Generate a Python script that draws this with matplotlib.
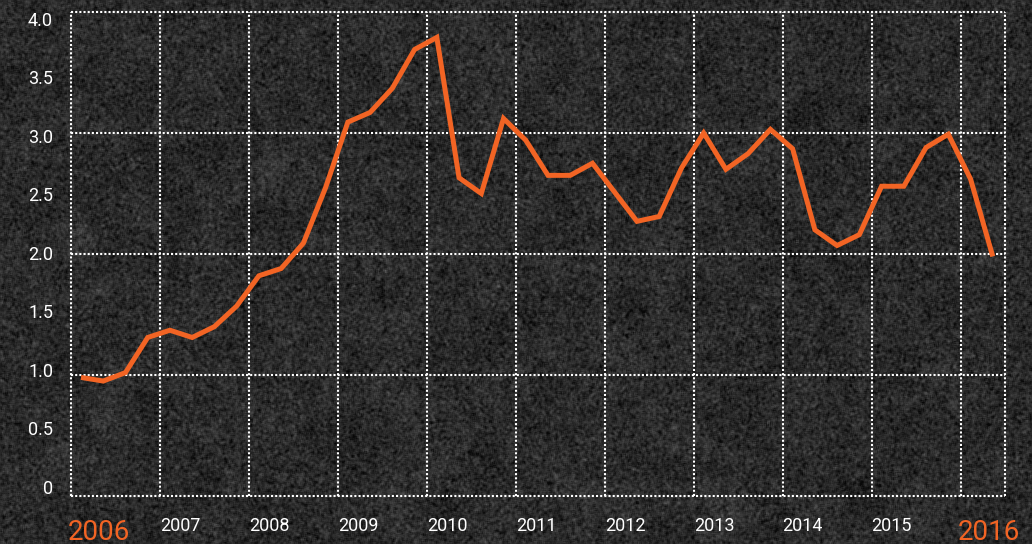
import numpy as np
import matplotlib
matplotlib.use("Agg")
import matplotlib.pyplot as plt

# ---- data ----
values = [0.98, 0.95, 1.02, 1.31, 1.37, 1.31, 1.40, 1.57, 1.82, 1.88,
          2.09, 2.55, 3.09, 3.17, 3.37, 3.69, 3.79, 2.63, 2.50, 3.12,
          2.94, 2.65, 2.65, 2.75, 2.51, 2.27, 2.31, 2.71, 3.00, 2.70,
          2.83, 3.03, 2.87, 2.20, 2.07, 2.16, 2.56, 2.56, 2.88, 2.99,
          2.62, 1.98]
first_x = 2006.1125
step = 0.25
years = list(range(2006, 2017))
year_labels = [str(y) for y in years]
y_ticks = [0, 0.5, 1.0, 1.5, 2.0, 2.5, 3.0, 3.5, 4.0]
y_tick_labels = ["0", "0.5", "1.0", "1.5", "2.0", "2.5", "3.0", "3.5", "4.0"]

x = first_x + step * np.arange(len(values))

ORANGE = "#f26424"
FONT = "Roboto"

W, H, DPI = 1032, 544, 100
fig = plt.figure(figsize=(W / DPI, H / DPI), dpi=DPI, facecolor="#2a2a2a")

# decorative background texture (not data)
rng = np.random.default_rng(3)
def blur(a, k):
    ker = np.ones(k) / k
    a = np.apply_along_axis(lambda r: np.convolve(r, ker, mode="same"), 1, a)
    a = np.apply_along_axis(lambda c: np.convolve(c, ker, mode="same"), 0, a)
    return a
tex = blur(rng.normal(0, 1, (H, W)), 3) * 1.0 + blur(rng.normal(0, 1, (H, W)), 31) * 3.0
tex = (tex - tex.mean()) / tex.std()
gray = np.clip(42 + 11 * tex, 8, 100) / 255.0
img = np.dstack([gray, gray, gray])
fig.figimage(img, xo=0, yo=0, origin="upper", zorder=0)

left, right, top, bottom = 71, 1005, 12, 496
ax = fig.add_axes([left / W, 1 - bottom / H, (right - left) / W, (bottom - top) / H])
ax.set_zorder(2)
ax.patch.set_alpha(0)
ax.set_xlim(2006, 2016.5)
ax.set_ylim(0, 4)
for s in ax.spines.values():
    s.set_visible(False)
ax.set_xticks([])
ax.set_yticks([])

grid_kw = dict(color="white", linewidth=1.5, linestyle=(0, (1, 1)), clip_on=False, zorder=1)
for yr in years:
    ax.axvline(yr, **grid_kw)
ax.axvline(2016.5, **grid_kw)
for v in range(0, 5):
    ax.axhline(v, **grid_kw)

ax.plot(x, values, color=ORANGE, linewidth=3.6, solid_joinstyle="miter",
        solid_capstyle="butt", zorder=3, clip_on=False)

# y tick labels (spaced slightly differently from gridlines, as in the original)
for v, lab in zip(y_ticks, y_tick_labels):
    ypix = 489 - 117.1 * v
    fig.text(53 / W, 1 - ypix / H, lab, ha="right", va="center",
             color="white", fontsize=13, family=FONT, zorder=5)

# x labels, left-aligned at gridlines
for i, (yr, lab) in enumerate(zip(years, year_labels)):
    xpix = left + (yr - 2006) / 10.5 * (right - left)
    if i == 0 or i == len(years) - 1:
        fig.text((xpix - 3) / W, 1 - 540 / H, lab, ha="left", va="baseline",
                 color=ORANGE, fontsize=20, family=FONT, zorder=5)
    else:
        fig.text(xpix / W, 1 - 531 / H, lab, ha="left", va="baseline",
                 color="white", fontsize=13, family=FONT, zorder=5)

fig.savefig("out.png", dpi=DPI, facecolor=fig.get_facecolor())
